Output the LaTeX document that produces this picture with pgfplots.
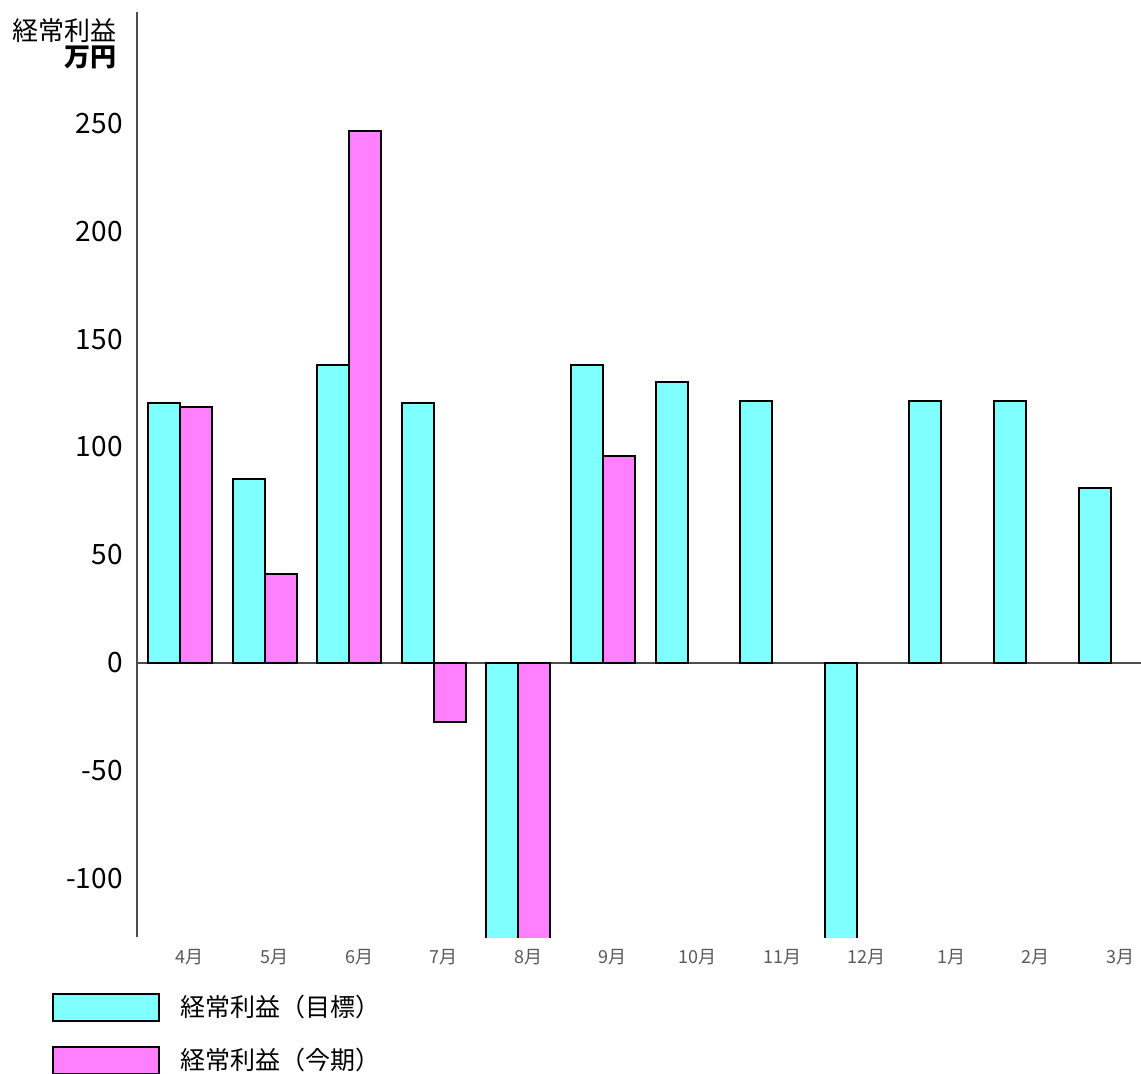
\documentclass[border=0pt]{standalone}
\usepackage{pgfplots}
\pgfplotsset{compat=1.18}
\usepackage{fontspec}
\setmainfont{Noto Sans CJK JP}
\definecolor{cy}{HTML}{80FFFF}
\definecolor{mg}{HTML}{FF80FF}
\begin{document}
\begin{tikzpicture}
\begin{axis}[
 scale only axis, width=502pt, height=462.5pt,
 xmin=-0.508, xmax=11.36, ymin=-127, ymax=301.5,
 ybar=0pt, bar width=16pt,
 axis lines=left,
 x axis line style={draw=none},
 y axis line style={-, draw=black!70, line width=0.7pt},
 major tick length=0pt,
 xtick={0,1,2,3,4,5,6,7,8,9,10,11},
 xticklabels={4月,5月,6月,7月,8月,9月,10月,11月,12月,1月,2月,3月},
 ytick={-100,-50,0,50,100,150,200,250},
 /pgf/number format/assume math mode=true,
 yticklabel style={font=\fontsize{14}{16}\selectfont, inner sep=0pt, xshift=-7pt},
 xticklabel style={font=\fontsize{9}{10}\selectfont, text=black!65, inner sep=0pt, yshift=-6pt, xshift=5pt},
 extra y ticks={0}, extra y tick labels={},
 extra y tick style={grid=major, major grid style={black!70, line width=0.7pt}},
 clip mode=individual,
 legend style={at={(-0.0847,0)}, anchor=north west, yshift=-27pt, draw=none, fill=none, inner sep=0pt,
   font=\fontsize{12.5}{14}\selectfont, row sep=10pt, legend cell align=left,
   /tikz/every even column/.append style={column sep=0pt}},
 legend image code/.code={\draw[#1, line width=1pt] (0pt,-6.75pt) rectangle (53pt,6.75pt);},
]
\addplot[fill=cy, draw=black, line width=1pt] coordinates {(0,120.5)(1,85)(2,138)(3,120.5)(4,-150)(5,138)(6,130)(7,121.5)(8,-150)(9,121.5)(10,121.5)(11,81)};
\addlegendentry{\hspace{8pt}経常利益（目標）}
\addplot[fill=mg, draw=black, line width=1pt] coordinates {(0,118.5)(1,41)(2,246.5)(3,-27.5)(4,-150)(5,96)};
\addlegendentry{\hspace{8pt}経常利益（今期）}
\coordinate (bl) at (rel axis cs:0,0);
\node[anchor=north east, align=right, inner sep=0pt, font=\fontsize{13}{13}\selectfont]
  at (rel axis cs:0,1) [xshift=-10pt, yshift=-3pt] {経常利益\\\textbf{万円}};
\end{axis}
\pgfresetboundingbox
\path (bl) ++(-68.5pt,-68pt) rectangle ++(570.5pt,536.5pt);
\end{tikzpicture}
\end{document}
